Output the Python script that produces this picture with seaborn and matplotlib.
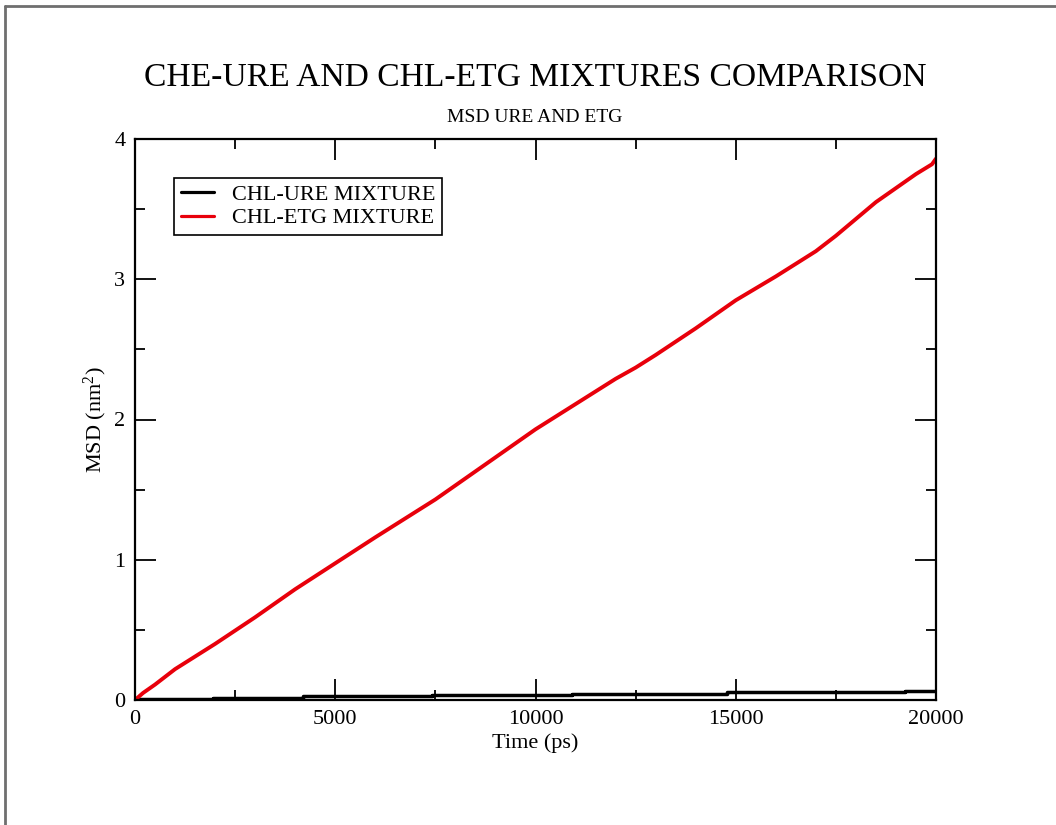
import matplotlib
matplotlib.use("Agg")
import matplotlib.pyplot as plt
from matplotlib.lines import Line2D
from matplotlib.ticker import MultipleLocator
import seaborn as sns
import pandas as pd

# ---- data ----
ure_time = [0, 1940, 4200, 7420, 10900, 14770, 19220, 20000]
ure_msd = [0.005, 0.015, 0.025, 0.035, 0.045, 0.055, 0.065, 0.065]

etg_time = [0, 200, 500, 1000, 1500, 2000, 2500, 3000, 4000, 5000, 6000, 7000,
            7500, 8000, 9000, 10000, 11000, 12000, 12500, 13000, 14000, 15000,
            16000, 17000, 17500, 18000, 18500, 19000, 19500, 19900, 20000]
etg_msd = [0.0, 0.05, 0.11, 0.22, 0.31, 0.40, 0.495, 0.59, 0.79, 0.975, 1.16, 1.34,
           1.43, 1.53, 1.73, 1.93, 2.11, 2.29, 2.37, 2.46, 2.65, 2.85,
           3.02, 3.20, 3.31, 3.43, 3.55, 3.65, 3.75, 3.82, 3.86]

labels = ["CHL-URE MIXTURE", "CHL-ETG MIXTURE"]
title = "CHE-URE AND CHL-ETG MIXTURES COMPARISON"
subtitle = "MSD URE AND ETG"

sns.set_theme(style="white")
plt.rcParams["font.family"] = ["Liberation Serif", "DejaVu Serif"]
plt.rcParams["mathtext.fontset"] = "custom"
plt.rcParams["mathtext.rm"] = "Liberation Serif"
plt.rcParams["mathtext.it"] = "Liberation Serif:italic"
plt.rcParams["text.color"] = "black"
plt.rcParams["axes.labelcolor"] = "black"
plt.rcParams["xtick.color"] = "black"
plt.rcParams["ytick.color"] = "black"

fig = plt.figure(figsize=(10.56, 8.25), dpi=100)
fig.patch.set_facecolor("white")
ax = fig.add_axes([135 / 1056, 1 - 700 / 825, (936 - 135) / 1056, (700 - 139) / 825])

df_ure = pd.DataFrame({"t": ure_time, "msd": ure_msd})
df_etg = pd.DataFrame({"t": etg_time, "msd": etg_msd})

sns.lineplot(data=df_ure, x="t", y="msd", ax=ax, color="black", lw=2.5,
             drawstyle="steps-post", label=labels[0], sort=True, estimator=None)
sns.lineplot(data=df_etg, x="t", y="msd", ax=ax, color="#e8000b", lw=2.8,
             label=labels[1], sort=True, estimator=None)

ax.set_xlim(0, 20000)
ax.set_ylim(0, 4)
ax.xaxis.set_major_locator(MultipleLocator(5000))
ax.xaxis.set_minor_locator(MultipleLocator(2500))
ax.yaxis.set_major_locator(MultipleLocator(1))
ax.yaxis.set_minor_locator(MultipleLocator(0.5))
ax.tick_params(which="both", direction="in", top=True, right=True,
               bottom=True, left=True, color="black", width=1.3)
ax.tick_params(which="major", length=15, labelsize=16)
ax.tick_params(axis="x", which="major", pad=7)
ax.tick_params(axis="y", which="major", pad=7)
ax.tick_params(which="minor", length=7.5)
for s in ax.spines.values():
    s.set_color("black")
    s.set_linewidth(1.6)
ax.grid(False)

ax.set_xlabel("Time (ps)", fontsize=16, labelpad=3)
ax.set_ylabel("MSD (nm$^{2}$)", fontsize=16, labelpad=4)

fig.text(535 / 1056, 1 - 78 / 825, title, ha="center", va="center", fontsize=24.2)
fig.text(535 / 1056, 1 - 117 / 825, subtitle, ha="center", va="center", fontsize=14)

leg = ax.legend(loc="upper left", bbox_to_anchor=(39 / 801, 1 - 39 / 561), fontsize=16,
                frameon=True, fancybox=False, framealpha=1, edgecolor="black",
                handlelength=1.5, handletextpad=0.8, borderpad=0.3,
                labelspacing=0.12, borderaxespad=0)
leg.get_frame().set_linewidth(1.2)
for h in leg.get_lines():
    h.set_linewidth(2.3)

# screenshot frame lines (top and left)
fig.add_artist(Line2D([5 / 1056, 1], [1 - 6 / 825, 1 - 6 / 825],
                      transform=fig.transFigure, color="#6f6f6f", lw=2))
fig.add_artist(Line2D([5 / 1056, 5 / 1056], [0, 1 - 6 / 825],
                      transform=fig.transFigure, color="#6f6f6f", lw=2))

fig.savefig("out.png", dpi=100, facecolor="white")
